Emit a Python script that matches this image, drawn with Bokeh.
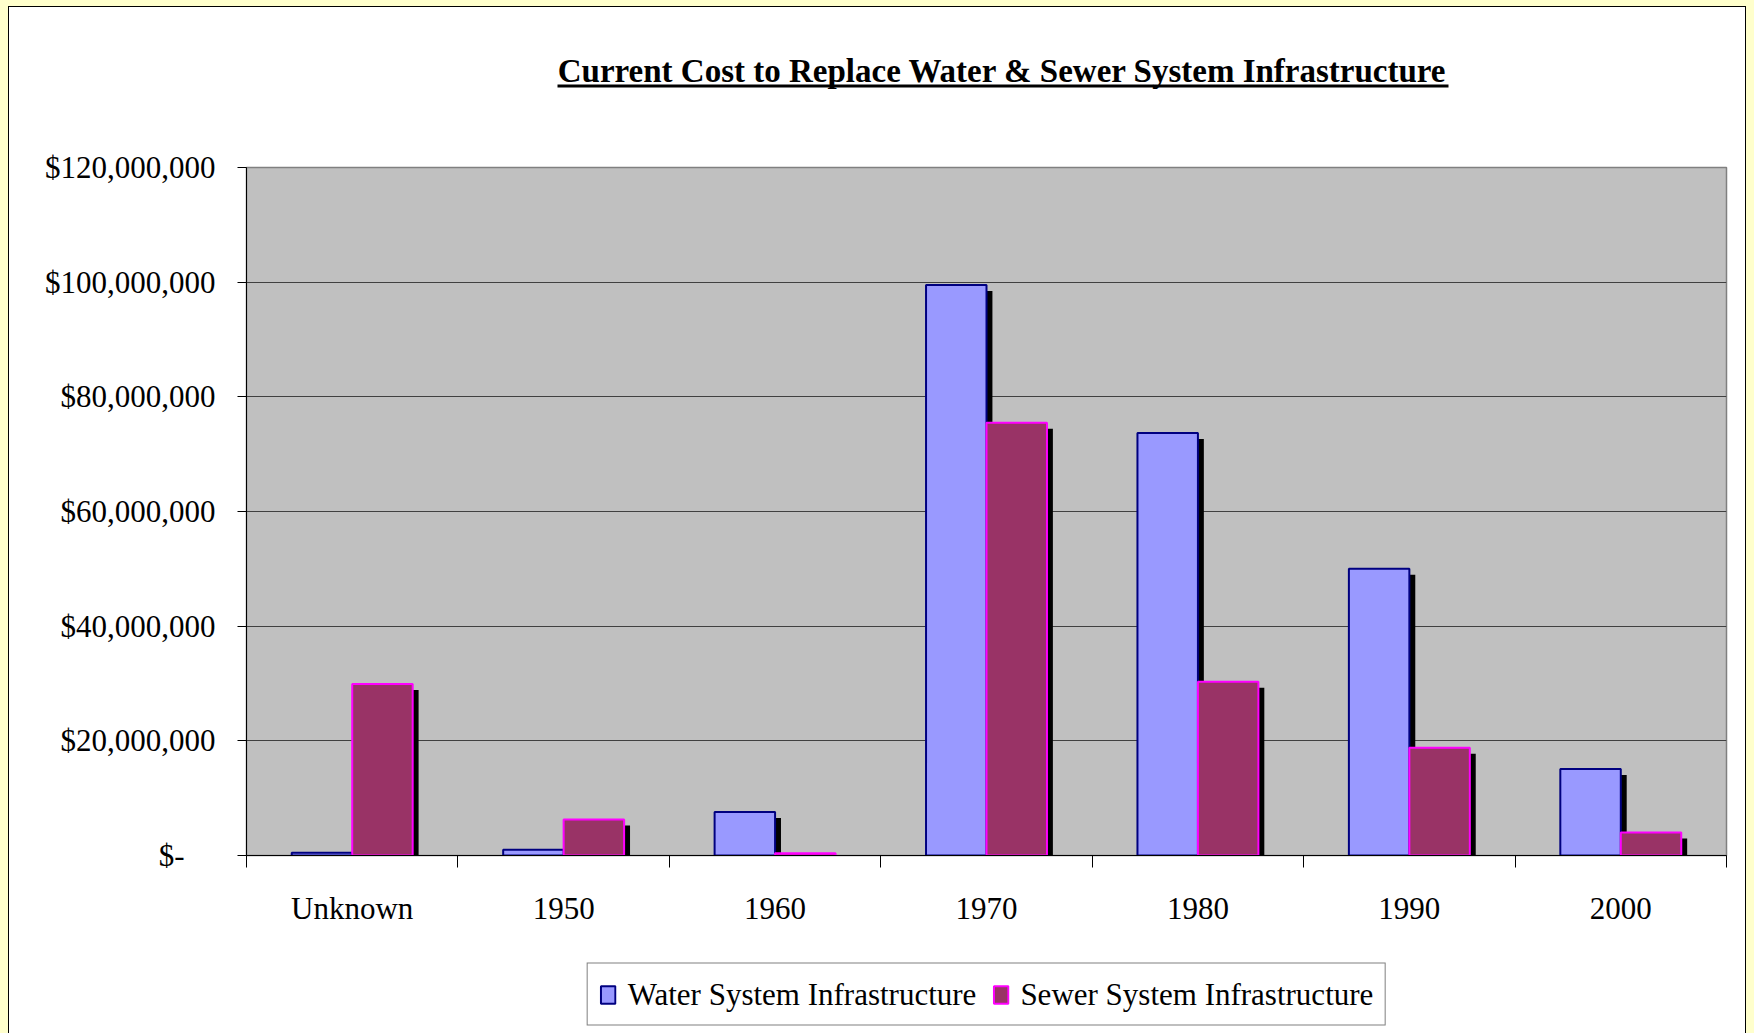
from bokeh.plotting import figure
from bokeh.layouts import column
from bokeh.models import (ColumnDataSource, Range1d, FixedTicker, Legend, LegendItem,
                          Label, BoxAnnotation)
from bokeh.transform import dodge
from bokeh.embed import file_html
from bokeh.resources import INLINE

# ---------------- data ----------------
categories = ["Unknown", "1950", "1960", "1970", "1980", "1990", "2000"]
water = [0.5e6, 1.0e6, 7.6e6, 99.5e6, 73.7e6, 50.0e6, 15.1e6]
sewer = [29.9e6, 6.3e6, 0.4e6, 75.5e6, 30.3e6, 18.8e6, 4.0e6]
y_ticks = [0, 20000000, 40000000, 60000000, 80000000, 100000000, 120000000]
y_tick_labels = ["$-\u00a0\u00a0\u00a0\u00a0", "$20,000,000", "$40,000,000", "$60,000,000",
                 "$80,000,000", "$100,000,000", "$120,000,000"]
series_names = ["Water System Infrastructure", "Sewer System Infrastructure"]
title_text = "Current Cost to Replace Water & Sewer System Infrastructure"

# ---------------- style / layout (pixels) ----------------
FONT = "Liberation Serif"
WATER_FILL, WATER_LINE = "#9999FF", "#000080"
SEWER_FILL, SEWER_LINE = "#993366", "#FF00FF"
BAR_W = 0.286
OFF = 0.143
SHADOW_DX = 0.028      # category units (~6px)
SHADOW_DY = 1.05e6     # value units (~6px)
FRAME_L, FRAME_R = 237, 19
FRAME_W, FRAME_H = 1480, 688
TOP_H = 91
MAIN_TOP = 160 - TOP_H
MAIN_BOTTOM = 100
LEG_H = 1026 - TOP_H - MAIN_TOP - FRAME_H - MAIN_BOTTOM


def strip(h):
    f = figure(frame_width=FRAME_W, frame_height=h,
               x_range=Range1d(0, FRAME_W), y_range=Range1d(0, h),
               x_axis_location=None, y_axis_location=None,
               output_backend="svg", toolbar_location=None,
               min_border_left=FRAME_L, min_border_right=FRAME_R,
               min_border_top=0, min_border_bottom=0,
               background_fill_color="white", border_fill_color="white",
               outline_line_color=None)
    f.grid.visible = False
    return f


# ---------- title strip ----------
pt = strip(TOP_H)
pt.add_layout(Label(x=756, y=28, text=title_text, text_align="center",
                    text_baseline="alphabetic", text_font=FONT,
                    text_font_size="33px", text_font_style="bold", text_color="black"))
pt.add_layout(BoxAnnotation(left=311, right=1202, bottom=11, top=14,
                            fill_color="black", fill_alpha=1.0, line_color=None))

# ---------------- main chart ----------------
pos = list(range(len(categories)))
src = ColumnDataSource(dict(
    x=pos, water=water, sewer=sewer,
    water_sh=[max(v - SHADOW_DY, 0) for v in water],
    sewer_sh=[max(v - SHADOW_DY, 0) for v in sewer],
))

p = figure(frame_width=FRAME_W, frame_height=FRAME_H,
           x_range=Range1d(-0.5, len(categories) - 0.5),
           y_range=Range1d(y_ticks[0], y_ticks[-1]),
           output_backend="svg", toolbar_location=None,
           min_border_left=FRAME_L, min_border_right=FRAME_R,
           min_border_top=MAIN_TOP, min_border_bottom=MAIN_BOTTOM,
           background_fill_color="#C0C0C0", border_fill_color="white",
           outline_line_color="#808080", outline_line_width=1.5)

p.vbar(x=dodge("x", -OFF + SHADOW_DX), top="water_sh", width=BAR_W, source=src,
       fill_color="black", line_color=None)
p.vbar(x=dodge("x", -OFF), top="water", width=BAR_W, source=src,
       fill_color=WATER_FILL, line_color=WATER_LINE, line_width=2)
p.vbar(x=dodge("x", OFF + SHADOW_DX), top="sewer_sh", width=BAR_W, source=src,
       fill_color="black", line_color=None)
p.vbar(x=dodge("x", OFF), top="sewer", width=BAR_W, source=src,
       fill_color=SEWER_FILL, line_color=SEWER_LINE, line_width=2)

xa = p.xaxis[0]
xa.ticker = FixedTicker(ticks=pos, minor_ticks=[i - 0.5 for i in range(len(categories) + 1)])
xa.major_label_overrides = {i: c for i, c in enumerate(categories)}
xa.major_tick_out = 0
xa.major_tick_in = 0
xa.minor_tick_out = 12
xa.minor_tick_in = 0
xa.minor_tick_line_color = "black"
xa.axis_line_color = "black"
xa.major_label_standoff = 23
xa.major_label_text_font = FONT
xa.major_label_text_font_size = "31px"
xa.major_label_text_color = "black"

ya = p.yaxis[0]
ya.ticker = FixedTicker(ticks=y_ticks)
ya.major_label_overrides = dict(zip(y_ticks, y_tick_labels))
ya.major_tick_out = 9
ya.major_tick_in = 0
ya.minor_tick_out = 0
ya.minor_tick_in = 0
ya.axis_line_color = "black"
ya.major_tick_line_color = "black"
ya.major_label_standoff = 22
ya.major_label_text_font = FONT
ya.major_label_text_font_size = "31px"
ya.major_label_text_color = "black"

p.xgrid.visible = False
p.ygrid.grid_line_color = "#404040"
p.ygrid.grid_line_width = 1

# ---------- legend strip (swatch renderers hold no visible data) ----------
pb = strip(LEG_H)
nodata = ColumnDataSource(dict(x=[float("nan")], top=[float("nan")]))
lw = pb.vbar(x="x", top="top", width=1, source=nodata,
             fill_color=WATER_FILL, line_color=WATER_LINE, line_width=2)
ls = pb.vbar(x="x", top="top", width=1, source=nodata,
             fill_color=SEWER_FILL, line_color=SEWER_LINE, line_width=2)
legend = Legend(
    items=[LegendItem(label=series_names[0], renderers=[lw]),
           LegendItem(label=series_names[1], renderers=[ls])],
    orientation="horizontal", location="center",
    label_text_font=FONT, label_text_font_size="31px", label_text_color="black",
    glyph_width=18, glyph_height=22, label_standoff=11, spacing=15,
    padding=11, label_height=39, margin=0,
    border_line_color="black", border_line_width=1,
    background_fill_color="white", background_fill_alpha=1.0)
pb.add_layout(legend)

layout = column(pt, p, pb, spacing=0)
layout.styles = {"margin": "7px 0 0 9px", "outline": "1px solid black",
                 "background-color": "white"}

open("out.html", "w").write(file_html(layout, INLINE).replace(
    "</head>", "<style>html, body { background-color: #FFFFCC; }</style></head>", 1))
